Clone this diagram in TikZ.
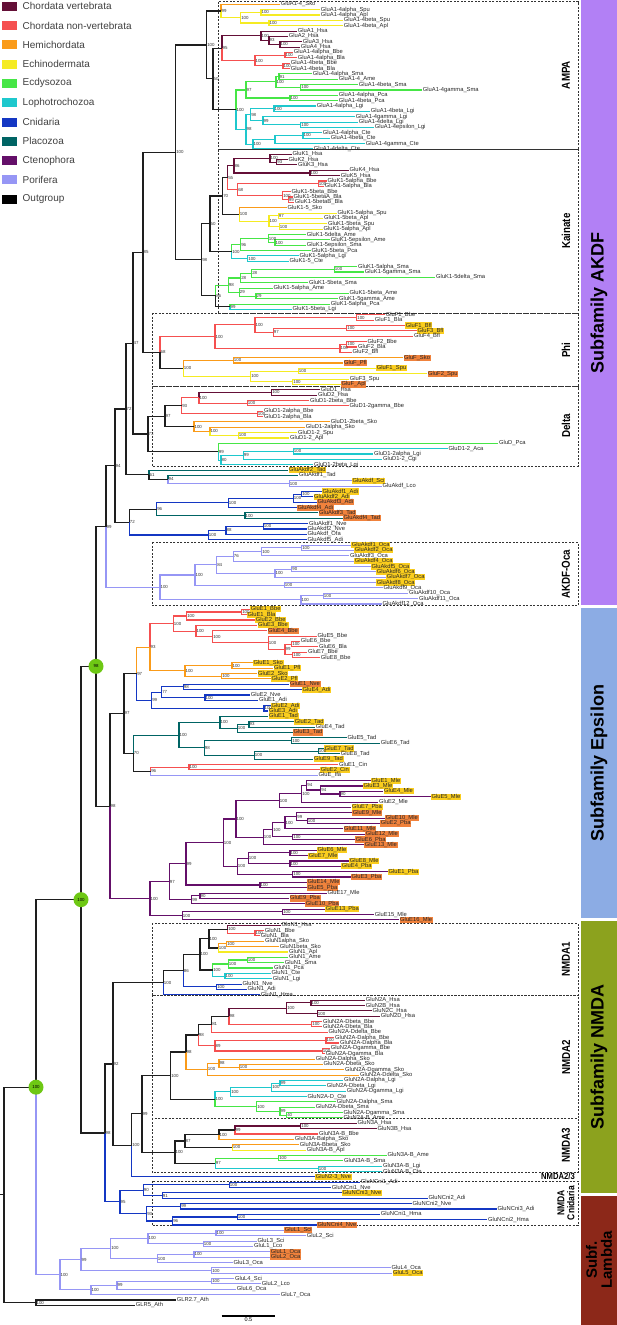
\documentclass[tikz,border=0pt]{standalone}
\usepackage{fontspec}
\setmainfont{Liberation Sans}
\newfontfamily\narrowfont[FakeStretch=0.85]{Liberation Sans}
\usetikzlibrary{calc,positioning}

\definecolor{cv}{RGB}{100,15,55}
\definecolor{cn}{RGB}{245,80,80}
\definecolor{hc}{RGB}{250,155,25}
\definecolor{ec}{RGB}{245,235,35}
\definecolor{ed}{RGB}{70,230,70}
\definecolor{lo}{RGB}{30,200,205}
\definecolor{cni}{RGB}{20,55,195}
\definecolor{pla}{RGB}{0,100,100}
\definecolor{cte}{RGB}{100,15,105}
\definecolor{por}{RGB}{150,150,245}
\definecolor{og}{RGB}{30,30,30}
\definecolor{hly}{RGB}{250,205,30}
\definecolor{hlo}{RGB}{240,130,60}
\definecolor{akdf}{RGB}{178,128,245}
\definecolor{eps}{RGB}{140,172,228}
\definecolor{nmda}{RGB}{140,162,30}
\definecolor{lam}{RGB}{140,40,25}
\definecolor{nodegreen}{RGB}{110,200,20}

\tikzset{
  leaf/.style={anchor=west, inner xsep=0.7pt, inner ysep=0.4pt, font=\fontsize{5.8}{6}\selectfont, text=black!85},
  hlY/.style={fill=hly},
  hlO/.style={fill=hlo},
  br/.style={line width=1.1pt},
  bs/.style={anchor=west, inner sep=0.4pt, font=\fontsize{4.4}{4.4}\selectfont, text=black!80},
  dbox/.style={dash pattern=on 2pt off 1.5pt, line width=0.7pt, black!80},
  boxlab/.style={rotate=90, align=center, font=\narrowfont\bfseries\fontsize{11.5}{10.5}\selectfont},
  sflab/.style={rotate=90, align=center, font=\bfseries\fontsize{18}{16}\selectfont},
  legbox/.style={minimum width=15.6pt, minimum height=9pt, inner sep=0pt},
  legtext/.style={anchor=west, font=\fontsize{10}{10}\selectfont, text=black!75, inner sep=0pt},
  gnode/.style={fill=nodegreen, circle, minimum size=15pt, inner sep=0pt, font=\fontsize{4.4}{4.4}\selectfont}
}

% leaf: index, end of branch, label, highlight
\newcommand{\mkleaf}[4]{\node[leaf,#4] (L#1) at (#2,{4.3+5.354*#1}) {#3};}
% join: name, x, child 1, colour 1, child 2, colour 2, support
\newcommand{\mkjoin}[7]{%
  \path let \p1=($(#3)!0.5!(#5)$) in (#2pt,\y1) coordinate (#1);
  \draw[br,#4] (#1) |- (#3);
  \draw[br,#6] (#1) |- (#5);
  \node[bs] (#1b) at (#1) {#7};}

\begin{document}
\begin{tikzpicture}[x=1pt,y=-1pt]
  \useasboundingbox (0,0) rectangle (617,1325);
  % Subfamily bars
  \fill[akdf] (581,0) rectangle (617,605);
  \fill[eps] (581,608) rectangle (617,918);
  \fill[nmda] (581,921) rectangle (617,1193);
  \fill[lam] (581,1196) rectangle (617,1325);
  \node[sflab] (sfA) at (599,303) {Subfamily AKDF};
  \node[sflab] (sfE) at (599,763) {Subfamily Epsilon};
  \node[sflab] (sfN) at (599,1057) {Subfamily NMDA};
  \node[sflab, font=\bfseries\fontsize{15}{15}\selectfont] (sfL) at (599,1260) {Subf.\\Lambda};
  %
  % Group boxes
  \draw[dbox] (218,1.7) rectangle (578,149);
  \draw[dbox] (218,149.7) rectangle (578,313);
  \draw[dbox] (152,313) rectangle (578,386.7);
  \draw[dbox] (152,386.7) rectangle (578,466);
  \draw[dbox] (152,542.3) rectangle (578,605.7);
  \draw[dbox] (152,923.3) rectangle (578,995);
  \draw[dbox] (152,995) rectangle (578,1118.3);
  \draw[dbox] (152,1118.3) rectangle (578,1172.5);
  \draw[dbox] (152,1181) rectangle (578,1225.7);
  \node[boxlab] (bAMPA) at (566,75) {AMPA};
  \node[boxlab] (bKai) at (566,231) {Kainate};
  \node[boxlab] (bPhi) at (566,350) {Phi};
  \node[boxlab] (bDel) at (566,426) {Delta};
  \node[boxlab] (bOca) at (566,574) {AKDF-Oca};
  \node[boxlab] (bN1) at (566,959) {NMDA1};
  \node[boxlab] (bN2) at (566,1057) {NMDA2};
  \node[boxlab] (bN3) at (566,1145) {NMDA3};
  \node[boxlab, font=\narrowfont\bfseries\fontsize{10}{10}\selectfont] (bNC) at (566,1203) {NMDA\\Cnidaria};
  \node[font=\narrowfont\bfseries\fontsize{9}{9}\selectfont] (bN23) at (558,1176.5) {NMDA2/3};
  %
  % Legend
  \node[legbox, fill=cv] (k1) at (9.5,6.2) {};
  \node[legtext, right=5pt of k1] (t1) {Chordata vertebrata};
  \node[legbox, fill=cn] (k2) at (9.5,25.5) {};
  \node[legtext, right=5pt of k2] (t2) {Chordata non-vertebrata};
  \node[legbox, fill=hc] (k3) at (9.5,44.8) {};
  \node[legtext, right=5pt of k3] (t3) {Hemichordata};
  \node[legbox, fill=ec] (k4) at (9.5,64.1) {};
  \node[legtext, right=5pt of k4] (t4) {Echinodermata};
  \node[legbox, fill=ed] (k5) at (9.5,83.4) {};
  \node[legtext, right=5pt of k5] (t5) {Ecdysozoa};
  \node[legbox, fill=lo] (k6) at (9.5,102.7) {};
  \node[legtext, right=5pt of k6] (t6) {Lophotrochozoa};
  \node[legbox, fill=cni] (k7) at (9.5,122) {};
  \node[legtext, right=5pt of k7] (t7) {Cnidaria};
  \node[legbox, fill=pla] (k8) at (9.5,141.3) {};
  \node[legtext, right=5pt of k8] (t8) {Placozoa};
  \node[legbox, fill=cte] (k9) at (9.5,160.6) {};
  \node[legtext, right=5pt of k9] (t9) {Ctenophora};
  \node[legbox, fill=por] (k10) at (9.5,179.9) {};
  \node[legtext, right=5pt of k10] (t10) {Porifera};
  \node[legbox, fill=black] (k11) at (9.5,199.2) {};
  \node[legtext, right=5pt of k11] (t11) {Outgroup};
  %
  % Leaves
  %% AMPA
  \mkleaf{0}{280}{GluA1-4\_Sko}{}
  \mkleaf{1}{320}{GluA1-4alpha\_Spu}{}
  \mkleaf{2}{320}{GluA1-4alpha\_Apl}{}
  \mkleaf{3}{343}{GluA1-4beta\_Spu}{}
  \mkleaf{4}{343}{GluA1-4beta\_Apl}{}
  \mkleaf{5}{297}{GluA1\_Hsa}{}
  \mkleaf{6}{288}{GluA2\_Hsa}{}
  \mkleaf{7}{302}{GluA3\_Hsa}{}
  \mkleaf{8}{300}{GluA4\_Hsa}{}
  \mkleaf{9}{293}{GluA1-4alpha\_Bbe}{}
  \mkleaf{10}{297}{GluA1-4alpha\_Bla}{}
  \mkleaf{11}{290}{GluA1-4beta\_Bbe}{}
  \mkleaf{12}{290}{GluA1-4beta\_Bla}{}
  \mkleaf{13}{312}{GluA1-4alpha\_Sma}{}
  \mkleaf{14}{338}{GluA1-4\_Ame}{}
  \mkleaf{15}{358}{GluA1-4beta\_Sma}{}
  \mkleaf{16}{422}{GluA1-4gamma\_Sma}{}
  \mkleaf{17}{338}{GluA1-4alpha\_Pca}{}
  \mkleaf{18}{338}{GluA1-4beta\_Pca}{}
  \mkleaf{19}{316}{GluA1-4alpha\_Lgi}{}
  \mkleaf{20}{370}{GluA1-4beta\_Lgi}{}
  \mkleaf{21}{355}{GluA1-4gamma\_Lgi}{}
  \mkleaf{22}{358}{GluA1-4delta\_Lgi}{}
  \mkleaf{23}{374}{GluA1-4epsilon\_Lgi}{}
  \mkleaf{24}{322}{GluA1-4alpha\_Cte}{}
  \mkleaf{25}{330}{GluA1-4beta\_Cte}{}
  \mkleaf{26}{365}{GluA1-4gamma\_Cte}{}
  \mkleaf{27}{313}{GluA1-4delta\_Cte}{}
  %% Kainate
  \mkleaf{28}{291.7}{GluK1\_Hsa}{}
  \mkleaf{29}{287.7}{GluK2\_Hsa}{}
  \mkleaf{30}{297.3}{GluK3\_Hsa}{}
  \mkleaf{31}{348.7}{GluK4\_Hsa}{}
  \mkleaf{32}{340}{GluK5\_Hsa}{}
  \mkleaf{33}{326.7}{GluK1-5alpha\_Bbe}{}
  \mkleaf{34}{324}{GluK1-5alpha\_Bla}{}
  \mkleaf{35}{290.7}{GluK1-5beta\_Bbe}{}
  \mkleaf{36}{292.7}{GluK1-5betaA\_Bla}{}
  \mkleaf{37}{294}{GluK1-5betaB\_Bla}{}
  \mkleaf{38}{286.7}{GluK1-5\_Sko}{}
  \mkleaf{39}{336.7}{GluK1-5alpha\_Spu}{}
  \mkleaf{40}{323.3}{GluK1-5beta\_Apl}{}
  \mkleaf{41}{327.3}{GluK1-5beta\_Spu}{}
  \mkleaf{42}{322.7}{GluK1-5alpha\_Apl}{}
  \mkleaf{43}{306}{GluK1-5delta\_Ame}{}
  \mkleaf{44}{330}{GluK1-5epsilon\_Ame}{}
  \mkleaf{45}{306}{GluK1-5epsilon\_Sma}{}
  \mkleaf{46}{310.7}{GluK1-5beta\_Pca}{}
  \mkleaf{47}{298.7}{GluK1-5alpha\_Lgi}{}
  \mkleaf{48}{288.7}{GluK1-5\_Cte}{}
  \mkleaf{49}{357.3}{GluK1-5alpha\_Sma}{}
  \mkleaf{50}{364}{GluK1-5gamma\_Sma}{}
  \mkleaf{51}{435.3}{GluK1-5delta\_Sma}{}
  \mkleaf{52}{308.3}{GluK1-5beta\_Sma}{}
  \mkleaf{53}{272.7}{GluK1-5alpha\_Ame}{}
  \mkleaf{54}{348.7}{GluK1-5beta\_Ame}{}
  \mkleaf{55}{338.3}{GluK1-5gamma\_Ame}{}
  \mkleaf{56}{330}{GluK1-5alpha\_Pca}{}
  \mkleaf{57}{291.7}{GluK1-5beta\_Lgi}{}
  %% Phi
  \mkleaf{58}{385}{GluF1\_Bbe}{}
  \mkleaf{59}{374}{GluF1\_Bla}{}
  \mkleaf{60}{405}{GluF1\_Bfl}{hlY}
  \mkleaf{61}{416.7}{GluF3\_Bfl}{hlY}
  \mkleaf{62}{413.3}{GluF4\_Bfl}{}
  \mkleaf{63}{366.7}{GluF2\_Bbe}{}
  \mkleaf{64}{357.3}{GluF2\_Bla}{}
  \mkleaf{65}{351.7}{GluF2\_Bfl}{}
  \mkleaf{66}{403.3}{GluF\_Sko}{hlO}
  \mkleaf{67}{343.3}{GluF\_Pfl}{hlO}
  \mkleaf{68}{376}{GluF1\_Spu}{hlY}
  \mkleaf{69}{427.3}{GluF2\_Spu}{hlO}
  \mkleaf{70}{349}{GluF3\_Spu}{}
  \mkleaf{71}{340.7}{GluF\_Apl}{hlO}
  %% Delta
  \mkleaf{72}{320}{GluD1\_Hsa}{}
  \mkleaf{73}{317.3}{GluD2\_Hsa}{}
  \mkleaf{74}{309.3}{GluD1-2beta\_Bbe}{}
  \mkleaf{75}{348.7}{GluD1-2gamma\_Bbe}{}
  \mkleaf{76}{263.3}{GluD1-2alpha\_Bbe}{}
  \mkleaf{77}{263.3}{GluD1-2alpha\_Bla}{}
  \mkleaf{78}{330}{GluD1-2beta\_Sko}{}
  \mkleaf{79}{305}{GluD1-2alpha\_Sko}{}
  \mkleaf{80}{297.3}{GluD1-2\_Spu}{}
  \mkleaf{81}{289.3}{GluD1-2\_Apl}{}
  \mkleaf{82}{498.3}{GluD\_Pca}{}
  \mkleaf{83}{447.7}{GluD1-2\_Aca}{}
  \mkleaf{84}{373.3}{GluD1-2alpha\_Lgi}{}
  \mkleaf{85}{382.3}{GluD1-2\_Cgi}{}
  \mkleaf{86}{313.3}{GluD1-2beta\_Lgi}{}
  %% Akdf
  \mkleaf{87}{288.3}{GluAkdf2\_Tad}{hlY}
  \mkleaf{88}{298.3}{GluAkdf1\_Tad}{}
  \mkleaf{89}{351.7}{GluAkdf\_Sci}{hlY}
  \mkleaf{90}{381.7}{GluAkdf\_Lco}{}
  \mkleaf{91}{321.7}{GluAkdf1\_Adi}{hlY}
  \mkleaf{92}{313.3}{GluAkdf2\_Adi}{hlY}
  \mkleaf{93}{316.7}{GluAkdf3\_Adi}{hlO}
  \mkleaf{94}{296.7}{GluAkdf4\_Adi}{hlO}
  \mkleaf{95}{318.3}{GluAkdf3\_Tad}{hlO}
  \mkleaf{96}{342.7}{GluAkdf4\_Tad}{hlO}
  \mkleaf{97}{308.3}{GluAkdf1\_Nve}{}
  \mkleaf{98}{306.7}{GluAkdf2\_Nve}{}
  \mkleaf{99}{306.7}{GluAkdf\_Ofa}{}
  \mkleaf{100}{306.7}{GluAkdf5\_Adi}{}
  %% AKDF-Oca
  \mkleaf{101}{351}{GluAkdf1\_Oca}{hlY}
  \mkleaf{102}{354}{GluAkdf2\_Oca}{hlY}
  \mkleaf{103}{349.3}{GluAkdf3\_Oca}{}
  \mkleaf{104}{354}{GluAkdf4\_Oca}{hlY}
  \mkleaf{105}{370.7}{GluAkdf5\_Oca}{hlY}
  \mkleaf{106}{376}{GluAkdf6\_Oca}{hlY}
  \mkleaf{107}{386}{GluAkdf7\_Oca}{hlY}
  \mkleaf{108}{376}{GluAkdf8\_Oca}{hlY}
  \mkleaf{109}{382.7}{GluAkdf9\_Oca}{}
  \mkleaf{110}{408.3}{GluAkdf10\_Oca}{}
  \mkleaf{111}{418.3}{GluAkdf11\_Oca}{}
  \mkleaf{112}{381.7}{GluAkdf12\_Oca}{}
  %% Epsilon
  \mkleaf{113}{250}{GluE1\_Bbe}{hlY}
  \mkleaf{114}{246.7}{GluE1\_Bla}{hlY}
  \mkleaf{115}{255}{GluE2\_Bbe}{hlY}
  \mkleaf{116}{257.3}{GluE3\_Bbe}{hlY}
  \mkleaf{117}{267.3}{GluE4\_Bbe}{hlO}
  \mkleaf{118}{316.7}{GluE5\_Bbe}{}
  \mkleaf{119}{300}{GluE6\_Bbe}{}
  \mkleaf{120}{318.3}{GluE6\_Bla}{}
  \mkleaf{121}{307.3}{GluE7\_Bbe}{}
  \mkleaf{122}{320}{GluE8\_Bbe}{}
  \mkleaf{123}{252.7}{GluE1\_Sko}{hlY}
  \mkleaf{124}{273.3}{GluE1\_Pfl}{hlY}
  \mkleaf{125}{257.3}{GluE2\_Sko}{hlY}
  \mkleaf{126}{270.7}{GluE2\_Pfl}{hlY}
  \mkleaf{127}{289.3}{GluE1\_Nve}{hlO}
  \mkleaf{128}{301.7}{GluE4\_Adi}{hlY}
  \mkleaf{129}{250}{GluE2\_Nve}{}
  \mkleaf{130}{258.3}{GluE1\_Adi}{}
  \mkleaf{131}{270.7}{GluE2\_Adi}{hlY}
  \mkleaf{132}{268.3}{GluE3\_Adi}{hlY}
  \mkleaf{133}{268.3}{GluE1\_Tad}{hlY}
  \mkleaf{134}{294}{GluE2\_Tad}{hlY}
  \mkleaf{135}{315}{GluE4\_Tad}{}
  \mkleaf{136}{292.7}{GluE3\_Tad}{hlO}
  \mkleaf{137}{346.7}{GluE5\_Tad}{}
  \mkleaf{138}{380}{GluE6\_Tad}{}
  \mkleaf{139}{324}{GluE7\_Tad}{hlY}
  \mkleaf{140}{340}{GluE8\_Tad}{}
  \mkleaf{141}{313.3}{GluE9\_Tad}{hlY}
  \mkleaf{142}{338.3}{GluE1\_Cin}{}
  \mkleaf{143}{320}{GluE2\_Cin}{hlY}
  \mkleaf{144}{317.7}{GluE\_Ifa}{}
  \mkleaf{145}{370.7}{GluE1\_Mle}{hlY}
  \mkleaf{146}{362.7}{GluE3\_Mle}{hlY}
  \mkleaf{147}{383.3}{GluE4\_Mle}{hlY}
  \mkleaf{148}{430.7}{GluE5\_Mle}{hlY}
  \mkleaf{149}{378.3}{GluE2\_Mle}{}
  \mkleaf{150}{351.3}{GluE7\_Pba}{hlY}
  \mkleaf{151}{352}{GluE9\_Mle}{hlO}
  \mkleaf{152}{385}{GluE10\_Mle}{hlO}
  \mkleaf{153}{380}{GluE2\_Pba}{hlO}
  \mkleaf{154}{343.3}{GluE11\_Mle}{hlO}
  \mkleaf{155}{365}{GluE12\_Mle}{hlO}
  \mkleaf{156}{355}{GluE6\_Pba}{hlO}
  \mkleaf{157}{364}{GluE13\_Mle}{hlO}
  \mkleaf{158}{316.7}{GluE6\_Mle}{hlY}
  \mkleaf{159}{308}{GluE7\_Mle}{hlY}
  \mkleaf{160}{349}{GluE8\_Mle}{hlY}
  \mkleaf{161}{341}{GluE4\_Pba}{hlY}
  \mkleaf{162}{387.7}{GluE1\_Pba}{hlY}
  \mkleaf{163}{350.7}{GluE3\_Pba}{hlO}
  \mkleaf{164}{306.7}{GluE14\_Mle}{hlO}
  \mkleaf{165}{306.7}{GluE5\_Pba}{hlO}
  \mkleaf{166}{326.7}{GluE17\_Mle}{}
  \mkleaf{167}{289.3}{GluE9\_Pba}{hlO}
  \mkleaf{168}{305}{GluE10\_Pba}{hlO}
  \mkleaf{169}{325}{GluE13\_Pba}{hlY}
  \mkleaf{170}{374}{GluE15\_Mle}{}
  \mkleaf{171}{399.3}{GluE16\_Mle}{hlO}
  %% NMDA1
  \mkleaf{172}{280.7}{GluN1\_Hsa}{}
  \mkleaf{173}{264}{GluN1\_Bbe}{}
  \mkleaf{174}{260}{GluN1\_Bla}{}
  \mkleaf{175}{264.3}{GluN1alpha\_Sko}{}
  \mkleaf{176}{279}{GluN1beta\_Sko}{}
  \mkleaf{177}{288.3}{GluN1\_Apl}{}
  \mkleaf{178}{288.3}{GluN1\_Ame}{}
  \mkleaf{179}{284}{GluN1\_Sma}{}
  \mkleaf{180}{273.3}{GluN1\_Pca}{}
  \mkleaf{181}{270.7}{GluN1\_Cte}{}
  \mkleaf{182}{272}{GluN1\_Lgi}{}
  \mkleaf{183}{241.7}{GluN1\_Nve}{}
  \mkleaf{184}{246.7}{GluN1\_Adi}{}
  \mkleaf{185}{260}{GluN1\_Hma}{}
  %% NMDA2
  \mkleaf{186}{365}{GluN2A\_Hsa}{}
  \mkleaf{187}{365}{GluN2B\_Hsa}{}
  \mkleaf{188}{371.7}{GluN2C\_Hsa}{}
  \mkleaf{189}{380}{GluN2D\_Hsa}{}
  \mkleaf{190}{322.3}{GluN2A-Dbeta\_Bbe}{}
  \mkleaf{191}{322.3}{GluN2A-Dbeta\_Bla}{}
  \mkleaf{192}{327.7}{GluN2A-Ddelta\_Bbe}{}
  \mkleaf{193}{334.3}{GluN2A-Dalpha\_Bbe}{}
  \mkleaf{194}{339.3}{GluN2A-Dalpha\_Bla}{}
  \mkleaf{195}{330}{GluN2A-Dgamma\_Bbe}{}
  \mkleaf{196}{325}{GluN2A-Dgamma\_Bla}{}
  \mkleaf{197}{315}{GluN2A-Dalpha\_Sko}{}
  \mkleaf{198}{322.7}{GluN2A-Dbeta\_Sko}{}
  \mkleaf{199}{344.3}{GluN2A-Dgamma\_Sko}{}
  \mkleaf{200}{359.3}{GluN2A-Ddelta\_Sko}{}
  \mkleaf{201}{343.3}{GluN2A-Dalpha\_Lgi}{}
  \mkleaf{202}{326}{GluN2A-Dbeta\_Lgi}{}
  \mkleaf{203}{346}{GluN2A-Dgamma\_Lgi}{}
  \mkleaf{204}{306.7}{GluN2A-D\_Cte}{}
  \mkleaf{205}{336}{GluN2A-Dalpha\_Sma}{}
  \mkleaf{206}{315}{GluN2A-Dbeta\_Sma}{}
  \mkleaf{207}{342.7}{GluN2A-Dgamma\_Sma}{}
  \mkleaf{208}{342.7}{GluN2A-B\_Ame}{}
  %% NMDA3
  \mkleaf{209}{356.7}{GluN3A\_Hsa}{}
  \mkleaf{210}{376.7}{GluN3B\_Hsa}{}
  \mkleaf{211}{318.3}{GluN3A-B\_Bbe}{}
  \mkleaf{212}{294}{GluN3A-Balpha\_Sko}{}
  \mkleaf{213}{299}{GluN3A-Bbeta\_Sko}{}
  \mkleaf{214}{306}{GluN3A-B\_Apl}{}
  \mkleaf{215}{386.7}{GluN3A-B\_Ame}{}
  \mkleaf{216}{343.3}{GluN3A-B\_Sma}{}
  \mkleaf{217}{382.3}{GluN3A-B\_Lgi}{}
  \mkleaf{218}{382.3}{GluN3A-B\_Cte}{}
  \mkleaf{219}{315}{GluN2-3\_Nve}{hlY}
  %% NMDA Cnidaria
  \mkleaf{220}{360}{GluNCni1\_Adi}{}
  \mkleaf{221}{331}{GluNCni1\_Nve}{}
  \mkleaf{222}{341.7}{GluNCni3\_Nve}{hlY}
  \mkleaf{223}{427.7}{GluNCni2\_Adi}{}
  \mkleaf{224}{411.7}{GluNCni2\_Nve}{}
  \mkleaf{225}{496.7}{GluNCni3\_Adi}{}
  \mkleaf{226}{380}{GluNCni1\_Hma}{}
  \mkleaf{227}{487.3}{GluNCni2\_Hma}{}
  \mkleaf{228}{316.7}{GluNCni4\_Nve}{hlO}
  %% Lambda
  \mkleaf{229}{284}{GluL1\_Sci}{hlO}
  \mkleaf{230}{306}{GluL2\_Sci}{}
  \mkleaf{231}{256.7}{GluL3\_Sci}{}
  \mkleaf{232}{253.3}{GluL1\_Lco}{}
  \mkleaf{233}{270}{GluL1\_Oca}{hlO}
  \mkleaf{234}{270}{GluL2\_Oca}{hlO}
  \mkleaf{235}{232.7}{GluL3\_Oca}{}
  \mkleaf{236}{390.7}{GluL4\_Oca}{}
  \mkleaf{237}{392.3}{GluL5\_Oca}{hlY}
  \mkleaf{238}{234.3}{GluL4\_Sci}{}
  \mkleaf{239}{261}{GluL2\_Lco}{}
  \mkleaf{240}{236}{GluL6\_Oca}{}
  \mkleaf{241}{280}{GluL7\_Oca}{}
  %% Outgroup
  \mkleaf{242}{176}{GLR2.7\_Ath}{}
  \mkleaf{243}{135}{GLR5\_Ath}{}
  %
  % Joins
  %% AMPA
  \mkjoin{aE1a}{261}{L1}{ec}{L2}{ec}{100}
  \mkjoin{aE1b}{269}{L3}{ec}{L4}{ec}{100}
  \mkjoin{aE1}{240.7}{aE1a}{ec}{aE1b}{ec}{100}
  \mkjoin{aS1}{221}{L0}{hc}{aE1}{ec}{99}
  \mkjoin{aV3}{280}{L7}{cv}{L8}{cv}{100}
  \mkjoin{aV2}{269}{L6}{cv}{aV3}{cv}{93}
  \mkjoin{aV}{261}{L5}{cv}{aV2}{cv}{100}
  \mkjoin{aCa}{285}{L9}{cn}{L10}{cn}{100}
  \mkjoin{aCb}{283}{L11}{cn}{L12}{cn}{100}
  \mkjoin{aC}{255}{aCa}{cn}{aCb}{cn}{100}
  \mkjoin{aCh}{222}{aV}{cv}{aC}{cn}{95}
  \mkjoin{aEc1a}{279}{L13}{ed}{L14}{ed}{91}
  \mkjoin{aEc1b}{300.7}{L15}{ed}{L16}{ed}{100}
  \mkjoin{aEc1}{276}{aEc1a}{ed}{aEc1b}{ed}{100}
  \mkjoin{aPc}{290}{L17}{ed}{L18}{ed}{100}
  \mkjoin{aEc}{246}{aEc1}{ed}{aPc}{ed}{97}
  \mkjoin{aL1a}{274}{L19}{lo}{L20}{lo}{100}
  \mkjoin{aL1c}{300.7}{L22}{lo}{L23}{lo}{100}
  \mkjoin{aL1b}{263}{L21}{lo}{aL1c}{lo}{99}
  \mkjoin{aL1}{250.7}{aL1a}{lo}{aL1b}{lo}{98}
  \mkjoin{aL2b}{303}{L24}{lo}{L25}{lo}{100}
  \mkjoin{aL2a}{275}{aL2b}{lo}{L26}{lo}{}
  \mkjoin{aL2}{253}{aL2a}{lo}{L27}{lo}{100}
  \mkjoin{aL}{246}{aL1}{lo}{aL2}{lo}{98}
  \mkjoin{aLo}{236}{aEc}{ed}{aL}{lo}{100}
  \mkjoin{aX}{213}{aCh}{og}{aLo}{og}{50}
  \mkjoin{aR}{206.7}{aS1}{og}{aX}{og}{100}
  %% Kainate
  \mkjoin{kV2}{276.7}{L29}{cv}{L30}{cv}{93}
  \mkjoin{kV1}{270}{L28}{cv}{kV2}{cv}{100}
  \mkjoin{kV3}{310}{L31}{cv}{L32}{cv}{100}
  \mkjoin{kV}{234}{kV1}{cv}{kV3}{cv}{86}
  \mkjoin{kC1}{318.3}{L33}{cn}{L34}{cn}{100}
  \mkjoin{kC3}{288.3}{L36}{cn}{L37}{cn}{99}
  \mkjoin{kC2}{282.7}{L35}{cn}{kC3}{cn}{100}
  \mkjoin{kC}{237.7}{kC1}{cn}{kC2}{cn}{68}
  \mkjoin{kCh}{227.7}{kV}{cv}{kC}{cn}{55}
  \mkjoin{kE1}{278.3}{L39}{ec}{L40}{ec}{97}
  \mkjoin{kE2}{279.3}{L41}{ec}{L42}{ec}{100}
  \mkjoin{kE}{269}{kE1}{ec}{kE2}{ec}{100}
  \mkjoin{kSE}{239.3}{L38}{hc}{kE}{ec}{100}
  \mkjoin{kD}{222.7}{kCh}{og}{kSE}{og}{70}
  \mkjoin{kP1b}{275}{L44}{ed}{L45}{ed}{100}
  \mkjoin{kP1a}{268.3}{L43}{ed}{kP1b}{ed}{100}
  \mkjoin{kP1}{240.7}{kP1a}{ed}{L46}{ed}{96}
  \mkjoin{kP2}{247.7}{L47}{lo}{L48}{lo}{100}
  \mkjoin{kP}{231.7}{kP1}{ed}{kP2}{lo}{100}
  \mkjoin{kDu}{210}{kD}{og}{kP}{og}{50}
  \mkjoin{kQa}{334.3}{L49}{ed}{L50}{ed}{100}
  \mkjoin{kQb}{251.7}{kQa}{ed}{L51}{ed}{28}
  \mkjoin{kQc}{240.7}{kQb}{ed}{L52}{ed}{28}
  \mkjoin{kQd}{256}{L54}{ed}{L55}{ed}{29}
  \mkjoin{kQe}{239.3}{L53}{ed}{kQd}{ed}{29}
  \mkjoin{kQf}{228.3}{kQc}{ed}{kQe}{ed}{98}
  \mkjoin{kQg}{230}{L56}{ed}{L57}{lo}{99}
  \mkjoin{kQ}{215.7}{kQf}{ed}{kQg}{og}{86}
  \mkjoin{kR}{201.7}{kDu}{og}{kQ}{og}{98}
  \mkjoin{nAK}{175.7}{aR}{og}{kR}{og}{100}
  %% Phi
  \mkjoin{fF1}{356.7}{L58}{cn}{L59}{cn}{100}
  \mkjoin{fF2}{346.7}{L60}{cn}{L61}{cn}{100}
  \mkjoin{fF3}{273.3}{fF2}{cn}{L62}{cn}{97}
  \mkjoin{fF4}{255}{fF1}{cn}{fF3}{cn}{100}
  \mkjoin{fF5}{346.7}{L63}{cn}{L64}{cn}{100}
  \mkjoin{fF6}{340}{fF5}{cn}{L65}{cn}{100}
  \mkjoin{fF7}{215}{fF4}{cn}{fF6}{cn}{100}
  \mkjoin{fF8}{233.3}{L66}{hc}{L67}{hc}{100}
  \mkjoin{fF9}{298.3}{L68}{ec}{L69}{ec}{100}
  \mkjoin{fF10}{292.7}{L70}{ec}{L71}{ec}{100}
  \mkjoin{fF11}{250.7}{fF9}{ec}{fF10}{ec}{100}
  \mkjoin{fF12}{183.3}{fF8}{hc}{fF11}{ec}{100}
  \mkjoin{fR}{160}{fF7}{cn}{fF12}{og}{68}
  \mkjoin{n85}{143}{nAK}{og}{fR}{og}{85}
  %% Delta
  \mkjoin{dD1}{271.7}{L72}{cv}{L73}{cv}{100}
  \mkjoin{dD2}{247.3}{L74}{cn}{L75}{cn}{100}
  \mkjoin{dD3}{199}{dD1}{cv}{dD2}{cn}{100}
  \mkjoin{dD4}{257.3}{L76}{cn}{L77}{cn}{100}
  \mkjoin{dD5}{181.7}{dD3}{cn}{dD4}{cn}{93}
  \mkjoin{dD8}{238.3}{L80}{ec}{L81}{ec}{100}
  \mkjoin{dD7}{210}{L79}{hc}{dD8}{ec}{100}
  \mkjoin{dD6}{194}{L78}{hc}{dD7}{hc}{100}
  \mkjoin{dD9}{165}{dD5}{og}{dD6}{og}{97}
  \mkjoin{dD10}{293.3}{L83}{lo}{L84}{lo}{100}
  \mkjoin{dD11}{243.3}{dD10}{lo}{L85}{lo}{99}
  \mkjoin{dD12}{221}{dD11}{lo}{L86}{lo}{80}
  \mkjoin{dD13}{218.3}{L82}{ed}{dD12}{lo}{99}
  \mkjoin{dR}{148}{dD9}{og}{dD13}{og}{73}
  \mkjoin{n47}{133}{n85}{og}{dR}{og}{47}
  %% Akdf
  \mkjoin{mS}{289.3}{L89}{por}{L90}{por}{100}
  \mkjoin{m94}{168}{L88}{pla}{mS}{por}{94}
  \mkjoin{m61}{149}{L87}{pla}{m94}{og}{61}
  \mkjoin{n72}{126}{n47}{og}{m61}{og}{72}
  \mkjoin{mB3}{301.7}{L91}{cni}{L92}{cni}{100}
  \mkjoin{mB2}{293.3}{mB3}{cni}{L93}{cni}{100}
  \mkjoin{mB1}{228.3}{mB2}{cni}{L94}{cni}{100}
  \mkjoin{mT}{245}{L95}{pla}{L96}{pla}{100}
  \mkjoin{m96}{156.7}{mB1}{cni}{mT}{pla}{96}
  \mkjoin{mC1}{263.3}{L97}{cni}{L98}{cni}{100}
  \mkjoin{mC2}{226}{mC1}{cni}{L99}{cni}{88}
  \mkjoin{mC3}{208.3}{mC2}{cni}{L100}{cni}{100}
  \mkjoin{m72}{129.3}{m96}{og}{mC3}{cni}{72}
  \mkjoin{n94}{115}{n72}{og}{m72}{og}{94}
  %% AKDF-Oca
  \mkjoin{oA}{301.7}{L101}{por}{L102}{por}{100}
  \mkjoin{oB}{261.7}{oA}{por}{L103}{por}{100}
  \mkjoin{oC}{233.3}{oB}{por}{L104}{por}{76}
  \mkjoin{oD}{291.7}{L105}{por}{L106}{por}{90}
  \mkjoin{oE}{275}{oD}{por}{L107}{por}{100}
  \mkjoin{oF}{216.7}{oC}{por}{oE}{por}{84}
  \mkjoin{oG}{284.3}{L108}{por}{L109}{por}{100}
  \mkjoin{oH}{195}{oF}{por}{oG}{por}{100}
  \mkjoin{oI}{323.3}{L110}{por}{L111}{por}{100}
  \mkjoin{oJ}{301}{oI}{por}{L112}{por}{100}
  \mkjoin{oR}{160}{oH}{por}{oJ}{por}{100}
  \mkjoin{n99}{106}{n94}{og}{oR}{por}{99}
  %% Epsilon
  \mkjoin{eA}{241.7}{L113}{cn}{L114}{cn}{100}
  \mkjoin{eB}{186.7}{eA}{cn}{L115}{cn}{100}
  \mkjoin{eI}{291.7}{L119}{cn}{L120}{cn}{100}
  \mkjoin{eJ}{292.7}{L121}{cn}{L122}{cn}{100}
  \mkjoin{eH}{285}{eI}{cn}{eJ}{cn}{99}
  \mkjoin{eG}{268.3}{L118}{cn}{eH}{cn}{100}
  \mkjoin{eF}{212.7}{L117}{cn}{eG}{cn}{100}
  \mkjoin{eD}{196}{L116}{cn}{eF}{cn}{100}
  \mkjoin{eC}{173.3}{eB}{cn}{eD}{cn}{100}
  \mkjoin{eK}{232}{L123}{hc}{L124}{hc}{100}
  \mkjoin{eL}{221.7}{L125}{hc}{L126}{hc}{100}
  \mkjoin{eM}{185}{eK}{hc}{eL}{hc}{100}
  \mkjoin{e93}{150}{eC}{cn}{eM}{hc}{93}
  \mkjoin{eO}{183.3}{L127}{cni}{L128}{cni}{98}
  \mkjoin{eP}{205}{L129}{cni}{L130}{cni}{100}
  \mkjoin{e77}{161.7}{eO}{cni}{eP}{cni}{77}
  \mkjoin{eQ}{264}{L131}{cni}{L132}{cni}{100}
  \mkjoin{e99}{151.7}{e77}{cni}{eQ}{cni}{99}
  \mkjoin{e97b}{136.7}{e93}{hc}{e99}{cni}{97}
  \mkjoin{t5}{249}{L134}{pla}{L135}{pla}{93}
  \mkjoin{t4}{237.3}{t5}{pla}{L136}{pla}{100}
  \mkjoin{t2}{220}{L133}{pla}{t4}{pla}{100}
  \mkjoin{t6}{291.7}{L137}{pla}{L138}{pla}{100}
  \mkjoin{t8}{318.3}{L139}{pla}{L140}{pla}{100}
  \mkjoin{t7}{254.3}{t8}{pla}{L141}{pla}{100}
  \mkjoin{t3}{204.3}{t6}{pla}{t7}{pla}{98}
  \mkjoin{t1}{179}{t2}{pla}{t3}{pla}{100}
  \mkjoin{eCi}{189}{L142}{cn}{L143}{cn}{100}
  \mkjoin{e96}{150.7}{eCi}{cn}{L144}{por}{96}
  \mkjoin{e70}{133.3}{t1}{pla}{e96}{og}{70}
  \mkjoin{e97}{124}{e97b}{og}{e70}{og}{97}
  %% Ctenophora
  \mkjoin{c90}{340}{L147}{cte}{L148}{cte}{90}
  \mkjoin{c2}{320.7}{L146}{cte}{c90}{cte}{94}
  \mkjoin{c3}{306.7}{L145}{cte}{c2}{cte}{94}
  \mkjoin{c4}{301.7}{c3}{cte}{L149}{cte}{100}
  \mkjoin{c5}{279.3}{c4}{cte}{L150}{cte}{100}
  \mkjoin{c7}{307.3}{L152}{cte}{L153}{cte}{100}
  \mkjoin{c6}{296.7}{L151}{cte}{c7}{cte}{99}
  \mkjoin{c8}{285}{c6}{cte}{L154}{cte}{100}
  \mkjoin{c9}{292.7}{L155}{cte}{L156}{cte}{100}
  \mkjoin{c10}{272.7}{c8}{cte}{c9}{cte}{100}
  \mkjoin{c11}{263.3}{c10}{cte}{L157}{cte}{100}
  \mkjoin{c12}{236}{c5}{cte}{c11}{cte}{100}
  \mkjoin{c13}{290}{L158}{cte}{L159}{cte}{100}
  \mkjoin{c14}{290}{L160}{cte}{L161}{cte}{100}
  \mkjoin{c15}{248.3}{c13}{cte}{c14}{cte}{100}
  \mkjoin{c16}{292.7}{L162}{cte}{L163}{cte}{100}
  \mkjoin{c17}{237.3}{c15}{cte}{c16}{cte}{100}
  \mkjoin{c18}{223.3}{c12}{cte}{c17}{cte}{100}
  \mkjoin{c19}{260}{L164}{cte}{L165}{cte}{100}
  \mkjoin{c20}{186}{c18}{cte}{c19}{cte}{99}
  \mkjoin{c21}{200}{L166}{cte}{L167}{cte}{90}
  \mkjoin{c22}{191.7}{c21}{cte}{L168}{cte}{99}
  \mkjoin{c23}{169.3}{c20}{cte}{c22}{cte}{97}
  \mkjoin{c24}{282.7}{L169}{cte}{L170}{cte}{100}
  \mkjoin{c25}{182.3}{c24}{cte}{L171}{cte}{100}
  \mkjoin{cR}{150}{c23}{cte}{c25}{cte}{100}
  \mkjoin{eR}{110}{e97}{og}{cR}{cte}{98}
  \mkjoin{g1}{96}{n99}{og}{eR}{og}{}
  %% NMDA1
  \mkjoin{p1b}{255}{L173}{cn}{L174}{cn}{100}
  \mkjoin{p1a}{227.7}{L172}{cv}{p1b}{cn}{100}
  \mkjoin{p1c}{226.7}{L175}{hc}{L176}{hc}{100}
  \mkjoin{p1d}{218.3}{p1c}{hc}{L177}{ec}{100}
  \mkjoin{p1e}{209}{p1a}{og}{p1d}{og}{100}
  \mkjoin{p1f}{247.3}{L178}{ed}{L179}{ed}{100}
  \mkjoin{p1g}{228.3}{p1f}{ed}{L180}{ed}{100}
  \mkjoin{p1h}{225}{L181}{lo}{L182}{lo}{100}
  \mkjoin{p1i}{212.7}{p1g}{ed}{p1h}{lo}{100}
  \mkjoin{p1j}{200}{p1e}{og}{p1i}{og}{100}
  \mkjoin{p1k}{216.7}{L183}{cni}{L184}{cni}{100}
  \mkjoin{p1l}{183.3}{p1j}{og}{p1k}{cni}{86}
  \mkjoin{p1R}{163.3}{p1l}{og}{L185}{cni}{100}
  %% NMDA2
  \mkjoin{q1}{311}{L186}{cv}{L187}{cv}{100}
  \mkjoin{q2}{317.3}{L188}{cv}{L189}{cv}{100}
  \mkjoin{q3}{286.7}{q1}{cv}{q2}{cv}{100}
  \mkjoin{q4}{311.7}{L190}{cn}{L191}{cn}{100}
  \mkjoin{q5}{229}{q3}{cv}{q4}{cn}{98}
  \mkjoin{q6}{211.7}{q5}{og}{L192}{cn}{81}
  \mkjoin{q7}{326}{L193}{cn}{L194}{cn}{100}
  \mkjoin{q8}{322.3}{L195}{cn}{L196}{cn}{100}
  \mkjoin{q9}{215}{q7}{cn}{q8}{cn}{89}
  \mkjoin{q10}{198.3}{q6}{og}{q9}{cn}{98}
  \mkjoin{q12}{239.3}{L198}{hc}{L199}{hc}{100}
  \mkjoin{q11}{219}{L197}{hc}{q12}{hc}{98}
  \mkjoin{q13}{207.3}{q11}{hc}{L200}{hc}{100}
  \mkjoin{q14}{186}{q10}{og}{q13}{hc}{98}
  \mkjoin{q15}{280}{L201}{lo}{L202}{lo}{99}
  \mkjoin{q16}{271.7}{q15}{lo}{L203}{lo}{100}
  \mkjoin{q17}{230.7}{q16}{lo}{L204}{lo}{100}
  \mkjoin{q19}{286.7}{L207}{ed}{L208}{ed}{40}
  \mkjoin{q18}{280}{L206}{ed}{q19}{ed}{99}
  \mkjoin{q20}{256.7}{L205}{ed}{q18}{ed}{100}
  \mkjoin{q21}{215}{q17}{lo}{q20}{ed}{100}
  \mkjoin{q22}{170.7}{q14}{og}{q21}{og}{100}
  %% NMDA3
  \mkjoin{r1}{300.7}{L209}{cv}{L210}{cv}{100}
  \mkjoin{r2}{235}{r1}{cv}{L211}{cn}{99}
  \mkjoin{r3}{219}{r2}{og}{L212}{hc}{100}
  \mkjoin{r4}{232.3}{L213}{hc}{L214}{ec}{100}
  \mkjoin{r5}{185}{r3}{og}{r4}{og}{87}
  \mkjoin{r6}{278.7}{L215}{ed}{L216}{ed}{100}
  \mkjoin{r7}{318.3}{L217}{lo}{L218}{lo}{100}
  \mkjoin{r8}{215.3}{r6}{ed}{r7}{lo}{97}
  \mkjoin{r9}{175}{r5}{og}{r8}{og}{100}
  \mkjoin{s99}{142}{q22}{og}{r9}{og}{99}
  \mkjoin{s100}{131.7}{s99}{og}{L219}{cni}{100}
  \mkjoin{s92}{113}{p1R}{og}{s100}{og}{92}
  %% NMDA Cnidaria
  \mkjoin{u1}{229.3}{L220}{cni}{L221}{cni}{100}
  \mkjoin{u2}{162.3}{L222}{cni}{L223}{cni}{91}
  \mkjoin{u90}{143.3}{u1}{cni}{u2}{cni}{90}
  \mkjoin{u3}{180.7}{L224}{cni}{L225}{cni}{99}
  \mkjoin{u4}{237.3}{L226}{cni}{L227}{cni}{100}
  \mkjoin{u96}{172.7}{u4}{cni}{L228}{cni}{96}
  \mkjoin{u93}{146.7}{u3}{cni}{u96}{cni}{93}
  \mkjoin{u95}{120}{u90}{cni}{u93}{cni}{95}
  \mkjoin{sNM}{105}{s92}{og}{u95}{cni}{98}
  \mkjoin{g2}{81}{g1}{og}{sNM}{og}{}
  %% Lambda
  \mkjoin{v1}{216}{L229}{por}{L230}{por}{100}
  \mkjoin{v2}{203.3}{L231}{por}{L232}{por}{100}
  \mkjoin{v5}{148}{v1}{por}{v2}{por}{100}
  \mkjoin{v3}{194}{L233}{por}{L234}{por}{100}
  \mkjoin{v4}{157.3}{v3}{por}{L235}{por}{100}
  \mkjoin{v9}{110.7}{v5}{por}{v4}{por}{100}
  \mkjoin{v6}{211.7}{L236}{por}{L237}{por}{100}
  \mkjoin{v10}{81}{v9}{por}{v6}{por}{99}
  \mkjoin{v7}{211.7}{L238}{por}{L239}{por}{100}
  \mkjoin{v11}{117}{v7}{por}{L240}{por}{99}
  \mkjoin{v12}{91}{v11}{por}{L241}{por}{100}
  \mkjoin{v13}{60}{v10}{por}{v12}{por}{100}
  \mkjoin{g3}{36}{g2}{og}{v13}{por}{}
  %% Outgroup and root
  \mkjoin{w1}{36}{L242}{og}{L243}{og}{100}
  \mkjoin{root}{4}{g3}{og}{w1}{og}{}
  \path (root) ++(-4,0) coordinate (rootend);
  \draw[br,og] (root) -- (rootend);
  %
  % Supported deep nodes
  \node[gnode] (g1c) at (g1) {98};
  \node[gnode] (g2c) at (g2) {100};
  \node[gnode] (g3c) at (g3) {100};
  %
  % Scale bar
  \coordinate (sbl) at (221.7,1316);
  \coordinate (sbr) at (275,1316);
  \draw[line width=1.2pt] (sbl) -- (sbr);
  \node[font=\fontsize{5.5}{5.5}\selectfont, inner sep=0.5pt, below=1pt] (sbt) at ($(sbl)!0.5!(sbr)$) {0.5};
\end{tikzpicture}
\end{document}
